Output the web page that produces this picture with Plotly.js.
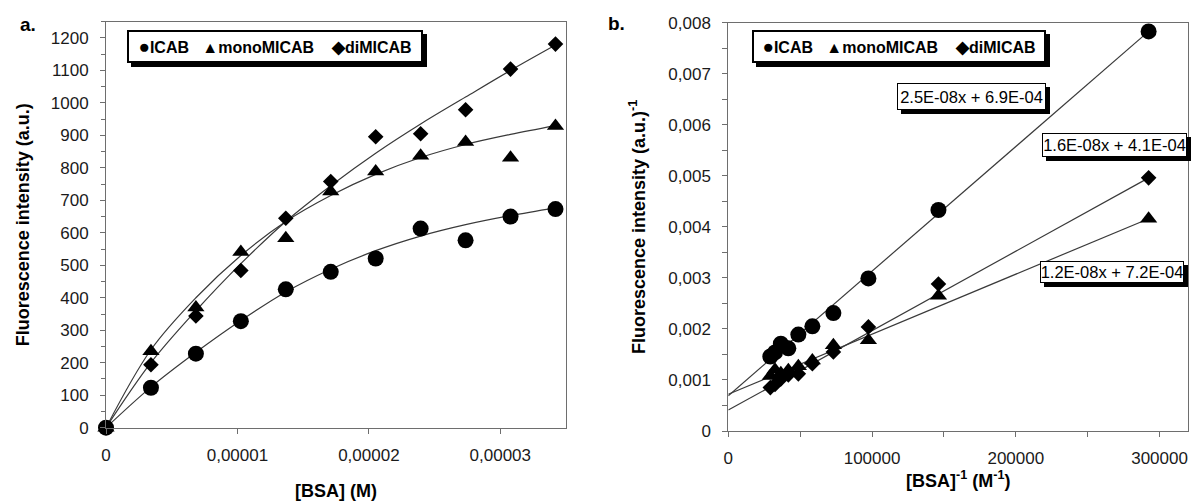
<!DOCTYPE html>
<html>
<head>
<meta charset="utf-8">
<script src="https://cdn.plot.ly/plotly-3.0.1.min.js"></script>
<style>html,body{margin:0;padding:0;background:#fff;}#chart{width:1193px;height:503px;}</style>
</head>
<body>
<div id="chart"></div>
<script>
// ---- data ----
// panel a: [BSA] (M) vs fluorescence intensity (a.u.)
const conc = [0, 3.42e-6, 6.84e-6, 1.026e-5, 1.368e-5, 1.71e-5, 2.052e-5, 2.394e-5, 2.736e-5, 3.078e-5, 3.42e-5];
const icab = [0, 123, 228, 328, 426, 480, 521, 613, 577, 650, 673];
const mono = [0, 235, 370, 541, 583, 727, 789, 837, 880, 831, 929];
const dimi = [0, 194, 344, 484, 645, 758, 896, 905, 979, 1104, 1181];
// fitted curves
const fitIcab = [0, 125, 232, 330, 418, 488, 545, 590, 625, 653, 677];
const fitMono = [0, 240, 400, 530, 635, 715, 780, 832, 872, 903, 930];
const fitDi   = [0, 200, 360, 505, 635, 745, 845, 935, 1018, 1100, 1178];

// panel b: double reciprocal
const invConc = [29240, 32490, 36550, 41770, 48730, 58480, 73100, 97470, 146200, 292400];
const icabInv = [0.00146, 0.00154, 0.00171, 0.00162, 0.00189, 0.00205, 0.00231, 0.00299, 0.00433, 0.00783];
const monoInv = [0.00108, 0.00120, 0.00113, 0.00119, 0.00127, 0.00138, 0.00168, 0.00178, 0.00265, 0.00416];
const diInv   = [0.00085, 0.00091, 0.00102, 0.00110, 0.00112, 0.00132, 0.00155, 0.00204, 0.00288, 0.00496];
const trendX     = [0, 292400];
const icabTrend  = [0.00069, 0.00783];
const monoTrend  = [0.00072, 0.00416];
const diTrend    = [0.00041, 0.00496];

const seriesNames = ['ICAB', 'monoMICAB', 'diMICAB'];
const eqLabels = ['2.5E-08x + 6.9E-04', '1.6E-08x + 4.1E-04', '1.2E-08x + 7.2E-04'];

// tick labels
const xTickValsA = [0, 1e-5, 2e-5, 3e-5];
const xTickTextA = ['0', '0,00001', '0,00002', '0,00003'];
const yTickValsA = [0, 100, 200, 300, 400, 500, 600, 700, 800, 900, 1000, 1100, 1200];
const yTickTextA = ['0', '100', '200', '300', '400', '500', '600', '700', '800', '900', '1000', '1100', '1200'];
const xTickValsB = [0, 100000, 200000, 300000];
const xTickTextB = ['0', '100000', '200000', '300000'];
const yTickValsB = [0, 0.001, 0.002, 0.003, 0.004, 0.005, 0.006, 0.007, 0.008];
const yTickTextB = ['0', '0,001', '0,002', '0,003', '0,004', '0,005', '0,006', '0,007', '0,008'];

// ---- drawing ----
const W = 1193, H = 503;
const px = x => x / W;
const py = y => 1 - y / H;
const FONT = 'Liberation Sans, Arial, sans-serif';
const LINEC = '#3a3a3a';
const AXC = '#6e6e6e';

function curve(x, y, xa, ya) {
  return {x: x, y: y, xaxis: xa, yaxis: ya, mode: 'lines', line: {shape: 'spline', color: LINEC, width: 1.2},
          hoverinfo: 'skip', showlegend: false};
}
function line(x, y, xa, ya) {
  return {x: x, y: y, xaxis: xa, yaxis: ya, mode: 'lines', line: {color: LINEC, width: 1.2},
          hoverinfo: 'skip', showlegend: false};
}
function pts(x, y, xa, ya, sym, size, name) {
  return {x: x, y: y, xaxis: xa, yaxis: ya, mode: 'markers', name: name, cliponaxis: false,
          marker: {symbol: sym, size: size, color: '#000', line: {width: 0}}, showlegend: false};
}

const traces = [
  curve(conc, fitIcab, 'x', 'y'),
  curve(conc, fitMono, 'x', 'y'),
  curve(conc, fitDi, 'x', 'y'),
  pts(conc, icab, 'x', 'y', 'circle', 16, seriesNames[0]),
  pts(conc, mono, 'x', 'y', 'triangle-up', 15, seriesNames[1]),
  pts(conc, dimi, 'x', 'y', 'diamond', 12, seriesNames[2]),
  line(trendX, icabTrend, 'x2', 'y2'),
  line(trendX, monoTrend, 'x2', 'y2'),
  line(trendX, diTrend, 'x2', 'y2'),
  pts(invConc, icabInv, 'x2', 'y2', 'circle', 16, seriesNames[0]),
  pts(invConc, monoInv, 'x2', 'y2', 'triangle-up', 15, seriesNames[1]),
  pts(invConc, diInv, 'x2', 'y2', 'diamond', 12, seriesNames[2])
];

const tickFont = {family: FONT, size: 17, color: '#1a1a1a'};
const titleFont = {family: FONT, size: 18, color: '#000', weight: 'bold'};
function axisBase() {
  return {showgrid: false, zeroline: false, showline: true, linecolor: AXC, linewidth: 1, mirror: true,
          ticks: 'outside', ticklen: 5, tickcolor: AXC, tickwidth: 1, tickfont: tickFont,
          tickmode: 'array', automargin: false, fixedrange: true};
}

const layout = {
  width: W, height: H,
  margin: {l: 0, r: 0, t: 0, b: 0},
  paper_bgcolor: '#fff', plot_bgcolor: '#fff',
  showlegend: false,
  xaxis: Object.assign(axisBase(), {
    domain: [px(106), px(566)], range: [0, 3.5e-5], anchor: 'y',
    tickvals: xTickValsA, ticktext: xTickTextA, ticklabelstandoff: 7,
    title: {text: '[BSA] (M)', font: titleFont, standoff: 20}
  }),
  yaxis: Object.assign(axisBase(), {
    domain: [py(427.7), py(21.7)], range: [0, 1250], anchor: 'x',
    tickvals: yTickValsA, ticktext: yTickTextA, ticklabelstandoff: 8,
    minor: {tickmode: 'linear', tick0: 0, dtick: 50, ticks: 'outside', ticklen: 4, tickcolor: AXC},
    title: {text: 'Fluorescence intensity (a.u.)', font: titleFont, standoff: 16}
  }),
  xaxis2: Object.assign(axisBase(), {
    domain: [px(728.3), px(1188.3)], range: [0, 320000], anchor: 'y2',
    tickvals: xTickValsB, ticktext: xTickTextB, ticklabelstandoff: 7,
    minor: {tickmode: 'linear', tick0: 0, dtick: 50000, ticks: 'outside', ticklen: 5, tickcolor: AXC},
    title: {text: '[BSA]<sup>-1</sup> (M<sup>-1</sup>)', font: titleFont, standoff: 2}
  }),
  yaxis2: Object.assign(axisBase(), {
    domain: [py(431), py(22.7)], range: [0, 0.008], anchor: 'x2',
    tickvals: yTickValsB, ticktext: yTickTextB, ticklabelstandoff: 8,
    minor: {tickmode: 'linear', tick0: 0, dtick: 0.0005, ticks: 'outside', ticklen: 5, tickcolor: AXC},
    title: {text: 'Fluorescence intensity (a.u.)<sup>-1</sup>', font: titleFont, standoff: 18}
  }),
  shapes: [],
  annotations: []
};

const NB = '\u00a0';
const sym = (g, s) => '<span style="font-size:' + s + 'px">' + g + '</span>';
const legendText = '<b>' + sym('\u25CF', 19) + seriesNames[0] + NB + NB + NB + sym('\u25B2', 16) + seriesNames[1] +
                   NB + NB + NB + NB + sym('\u25C6', 17) + seriesNames[2] + '</b>';

function shadowBox(x0, y0, x1, y1, off) {
  layout.shapes.push({type: 'rect', xref: 'paper', yref: 'paper', layer: 'above',
    x0: px(x0 + off), x1: px(x1 + off), y0: py(y1 + off), y1: py(y0 + off),
    fillcolor: '#000', line: {width: 0}});
}
function boxAnno(text, x0, y0, x1, y1, size, bw) {
  layout.annotations.push({xref: 'paper', yref: 'paper', x: px((x0 + x1) / 2), y: py((y0 + y1) / 2),
    xanchor: 'center', yanchor: 'middle', text: text, showarrow: false,
    width: x1 - x0 - 2 * bw, height: y1 - y0 - 2 * bw, borderpad: 0, borderwidth: bw, bordercolor: '#000', bgcolor: '#fff',
    font: {family: FONT, size: size, color: '#000'}});
}

// legends
shadowBox(127, 30, 423, 63, 4);
boxAnno(legendText, 127, 30, 423, 63, 16, 2);
shadowBox(752, 30, 1046, 63, 4);
boxAnno(legendText, 752, 30, 1046, 63, 16, 2);

// trendline equations
shadowBox(897, 83, 1046, 110, 4);
boxAnno(eqLabels[0], 897, 83, 1046, 110, 16.5, 1);
shadowBox(1042, 133, 1187, 157, 4);
boxAnno(eqLabels[1], 1042, 133, 1187, 157, 16.5, 1);
shadowBox(1040, 261, 1184, 283, 4);
boxAnno(eqLabels[2], 1040, 261, 1184, 283, 16.5, 1);

// panel labels
layout.annotations.push({xref: 'paper', yref: 'paper', x: px(28), y: py(25), xanchor: 'center', yanchor: 'middle',
  text: '<b>a.</b>', showarrow: false, font: {family: FONT, size: 19, color: '#000'}});
layout.annotations.push({xref: 'paper', yref: 'paper', x: px(616), y: py(24), xanchor: 'center', yanchor: 'middle',
  text: '<b>b.</b>', showarrow: false, font: {family: FONT, size: 19, color: '#000'}});

Plotly.newPlot('chart', traces, layout, {staticPlot: true, displayModeBar: false});
</script>
</body>
</html>
